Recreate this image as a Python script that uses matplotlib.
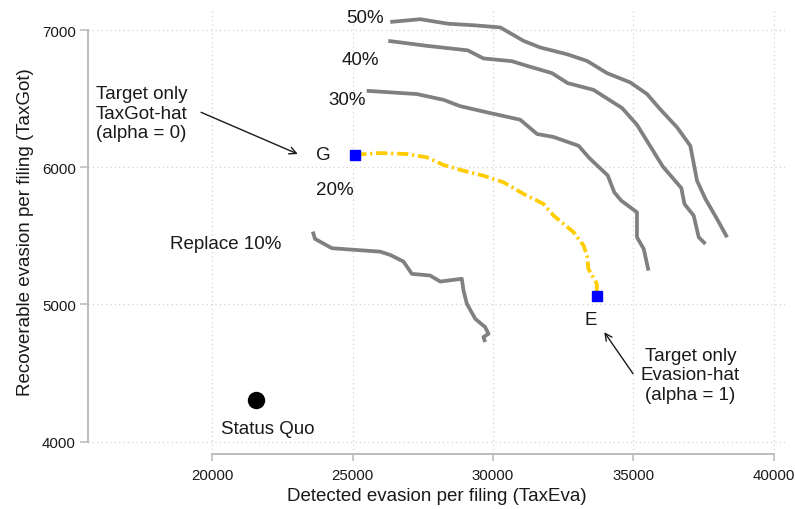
import numpy as np
import matplotlib.pyplot as plt

plt.rcParams['font.family'] = ['Liberation Sans', 'DejaVu Sans']

# frontier curves (detected evasion, recoverable evasion)
c10_x = [23580, 23660, 24260, 25980, 26340, 26810, 27110, 27760, 28120, 28890, 28950, 29070, 29370, 29720, 29840, 29660, 29720]
c10_y = [5531, 5478, 5410, 5385, 5361, 5313, 5223, 5211, 5167, 5187, 5101, 5004, 4895, 4835, 4786, 4762, 4726]

c30_x = [25500, 27290, 28240, 28830, 29780, 30970, 31570, 32160, 33050, 33430, 34090, 34320, 34570, 35130, 35130, 35370, 35540]
c30_y = [6558, 6534, 6492, 6446, 6401, 6347, 6243, 6221, 6157, 6068, 5940, 5818, 5757, 5672, 5490, 5405, 5247]

c40_x = [26270, 27640, 29100, 29660, 30670, 31210, 32100, 32660, 33580, 34600, 35130, 36050, 36710, 36820, 37150, 37330, 37570]
c40_y = [6922, 6886, 6853, 6794, 6774, 6740, 6687, 6614, 6565, 6432, 6310, 6006, 5849, 5733, 5648, 5490, 5441]

c50_x = [26340, 27410, 28400, 29310, 30260, 31090, 31680, 32630, 33350, 34060, 34890, 35490, 35950, 36560, 37030, 37270, 37570, 37980, 38340]
c50_y = [7060, 7080, 7047, 7036, 7020, 6922, 6874, 6825, 6776, 6687, 6619, 6534, 6425, 6291, 6157, 5902, 5769, 5624, 5490]

# 20% frontier between the two single-target points
c20_x = [25090, 25980, 26930, 27640, 28240, 28950, 29660, 30370, 31090, 31800, 32160, 32870, 33230, 33350, 33400, 33700, 33700]
c20_y = [6092, 6104, 6097, 6073, 6017, 5975, 5939, 5891, 5806, 5733, 5648, 5527, 5429, 5356, 5259, 5150, 5065]

g_pt = (25090, 6092)
e_pt = (33700, 5065)
status_quo = (21550, 4300)

fig = plt.figure(figsize=(7.95, 5.1), dpi=100)
ax = fig.add_axes([0.111, 0.108, 0.877, 0.872])

gray = '#808080'
for xs, ys in [(c10_x, c10_y), (c30_x, c30_y), (c40_x, c40_y), (c50_x, c50_y)]:
    ax.plot(xs, ys, color=gray, lw=2.7, solid_joinstyle='round', solid_capstyle='butt', zorder=3)

ax.plot(c20_x, c20_y, color='#FFCC00', lw=2.7, linestyle=(0, (3, 1, 0.6, 1)), zorder=3)
ax.plot(*zip(g_pt, e_pt), linestyle='none', marker='s', ms=7.6, color='#0000FF', zorder=4)
ax.plot(*status_quo, marker='o', ms=11.5, color='black', zorder=4)

fs = 13.5
tc = '#1a1a1a'
ax.text(25440, 7092, '50%', fontsize=fs, color=tc, ha='center', va='center')
ax.text(25265, 6789, '40%', fontsize=fs, color=tc, ha='center', va='center')
ax.text(24790, 6497, '30%', fontsize=fs, color=tc, ha='center', va='center')
ax.text(24350, 5835, '20%', fontsize=fs, color=tc, ha='center', va='center')
ax.text(20490, 5441, 'Replace 10%', fontsize=fs, color=tc, ha='center', va='center')
ax.text(23957, 6097, 'G', fontsize=fs, color=tc, ha='center', va='center')
ax.text(33490, 4890, 'E', fontsize=fs, color=tc, ha='center', va='center')
ax.text(21975, 4094, 'Status Quo', fontsize=fs, color=tc, ha='center', va='center')

ax.text(15855, 6395, 'Target only\nTaxGot-hat\n(alpha = 0)', fontsize=fs, color=tc,
        ha='left', va='center', linespacing=1.2)
ax.text(37030, 4487, 'Target only\nEvasion-hat\n(alpha = 1)', fontsize=fs, color=tc,
        ha='center', va='center', linespacing=1.2, multialignment='center')

arrow = dict(arrowstyle='->,head_length=0.5,head_width=0.25', color='#1a1a1a', lw=1.0,
             shrinkA=0, shrinkB=0)
ax.annotate('', xy=(23045, 6097), xytext=(19600, 6401), arrowprops=arrow)
ax.annotate('', xy=(33965, 4798), xytext=(34990, 4495), arrowprops=arrow)

ax.set_xlim(15580, 40420)
ax.set_ylim(3910, 7153)
ax.set_xticks([20000, 25000, 30000, 35000, 40000])
ax.set_yticks([4000, 5000, 6000, 7000])

ax.grid(True, color='#d2d2d2', linestyle=(0, (1, 2.5)), lw=0.9)
ax.set_axisbelow(True)

for s in ['top', 'right']:
    ax.spines[s].set_visible(False)
ax.spines['left'].set_bounds(4000, 7000)
ax.spines['bottom'].set_bounds(20000, 40000)
for s in ['left', 'bottom']:
    ax.spines[s].set_color('#bdbdbd')
    ax.spines[s].set_linewidth(1.4)

ax.tick_params(axis='both', colors='#bdbdbd', labelcolor=tc, labelsize=10.8, width=1.2)
ax.tick_params(axis='y', length=6, pad=3)
ax.tick_params(axis='x', length=5, pad=5)

ax.set_xlabel('Detected evasion per filing (TaxEva)', fontsize=13.5, color=tc, labelpad=4)
ax.set_ylabel('Recoverable evasion per filing (TaxGot)', fontsize=13.5, color=tc, labelpad=6)

fig.savefig('out.png', dpi=100)
